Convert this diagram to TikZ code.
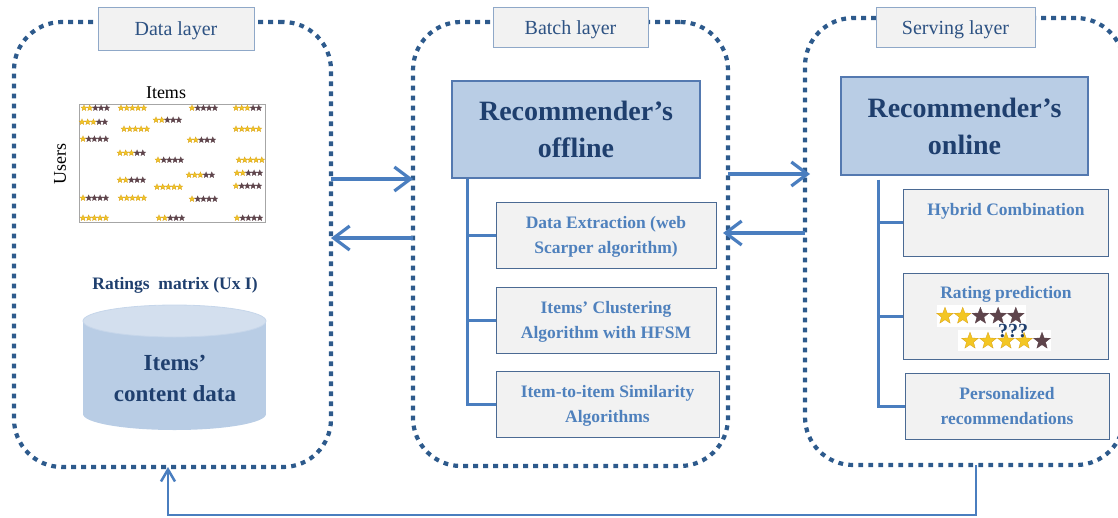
\documentclass[tikz,border=0pt]{standalone}
\usepackage{fontspec}
\setmainfont{Liberation Serif}
\usetikzlibrary{arrows.meta,calc}

\definecolor{dotc}{HTML}{2D5A8C}
\definecolor{arrc}{HTML}{4A7EBF}
\definecolor{hdrfill}{HTML}{B9CDE5}
\definecolor{hdrline}{HTML}{5479B0}
\definecolor{hdrtext}{HTML}{1F3F6E}
\definecolor{subfill}{HTML}{F2F2F2}
\definecolor{subline}{HTML}{4B6A93}
\definecolor{subtext}{HTML}{4F81BD}
\definecolor{titleline}{HTML}{8FA8C8}
\definecolor{titletext}{HTML}{2D5283}
\definecolor{cylbody}{HTML}{B9CDE5}
\definecolor{cyltop}{HTML}{D3DFEE}
\definecolor{cylline}{HTML}{C6D6EA}
\definecolor{goldfill}{HTML}{F3C623}
\definecolor{goldline}{HTML}{D9A21B}
\definecolor{brownfill}{HTML}{5E444B}
\definecolor{gridline}{HTML}{A6A6A6}

% fixed first-line height and last-line depth for the two-line box labels
\newcommand\topstrut{\rule{0pt}{17.5pt}}
\newcommand\botstrut{\rule[-5.5pt]{0pt}{5.5pt}}

% a row of five stars: x of first centre, y, number of gold stars, radius, spacing
\newcommand\starrow[5]{%
  \foreach \i in {1,...,5}{%
    \ifnum\i>#3\relax\def\sc{sb}\else\def\sc{sg}\fi
    \path[\sc, shift={({#1+(\i-1)*#5},#2)}] (-90:#4)
      \foreach \k in {1,...,9}{ -- (-90+36*\k:{#4*(mod(\k,2)==0 ? 1 : 0.42)}) } -- cycle;
  }}

\begin{document}
\begin{tikzpicture}[x=1pt,y=-1pt,
  layer/.style={draw=dotc, line width=4.2pt, dash pattern=on 4.8pt off 5.2pt,
    rounded corners=48pt, inner sep=0pt, outer sep=0pt},
  titlebox/.style={draw=titleline, fill=subfill, line width=0.8pt, inner sep=0pt,
    text height=14pt, text depth=0pt,
    font=\fontsize{20}{24}\selectfont, text=titletext},
  hdr/.style={draw=hdrline, fill=hdrfill, line width=1.2pt, inner sep=0pt, align=center,
    font=\bfseries\fontsize{28}{37}\selectfont, text=hdrtext},
  subbox/.style={draw=subline, fill=subfill, line width=1pt, inner sep=0pt, align=center,
    font=\bfseries\fontsize{17.5}{24.5}\selectfont, text=subtext},
  subtxt/.style={inner sep=0pt, align=center, font=\bfseries\fontsize{17.5}{24.5}\selectfont, text=subtext},
  arr/.style={draw=arrc, line width=3.2pt, -{Straight Barb[length=16pt,width=24pt]}},
  trunk/.style={draw=arrc, line width=3pt},
  fb/.style={draw=arrc, line width=2.5pt, -{Straight Barb[length=12pt,width=14pt]}},
  sg/.style={fill=goldfill, draw=goldline, line width=0.3pt},
  sb/.style={fill=brownfill, draw=brownfill, line width=0.3pt}]

\useasboundingbox (0,0) rectangle (1118,517);
\clip (0,0) rectangle (1118,517);

% ---------- the three layers ----------
\node[layer, minimum width=317pt, minimum height=445pt] (datal) at (172.5,244.5) {};
\node[layer, minimum width=315pt, minimum height=444pt] (batchl) at (570.5,244) {};
\node[layer, minimum width=319pt, minimum height=447pt] (servl) at (964.5,241.5) {};

\node[titlebox, minimum width=156pt, minimum height=43pt] (tdata) at (176,28.5) {Data layer};
\node[titlebox, minimum width=155pt, minimum height=40pt] (tbatch) at (570.5,27) {Batch layer};
\node[titlebox, minimum width=159pt, minimum height=40pt] (tserv) at (955.5,27) {Serving layer};

% ---------- data layer ----------
\node[inner sep=0pt, font=\fontsize{18}{20}\selectfont] (items) at (166,93) {Items};
\node[draw=gridline, fill=white, line width=1pt, minimum width=186pt, minimum height=118pt,
  inner sep=0pt] (mat) at (172,163) {};
\node[inner sep=0pt, rotate=90, font=\fontsize{18}{20}\selectfont] (users) at (60,164) {Users};

\foreach \gx/\gy/\ng in {81/108/2, 118/108/5, 189/108/1, 233/108/3,
    79/122/3, 153/120/2, 121/129/5, 233/129/5, 80/139/1, 187/140/2,
    117/153/3, 155/160/1, 236/160/5, 186/175/3, 234/173/2, 117/180/2,
    233/186/1, 154/187/5, 80/198/1, 118/198/5, 189/199/1,
    80/218/5, 156/218/2, 234/218/1}{
  \starrow{\gx+3}{\gy}{\ng}{3.1}{5.7}
}

\node[inner sep=0pt, font=\bfseries\fontsize{17.5}{20}\selectfont, text=hdrtext]
  (rmat) at (175,285) {Ratings\ \ matrix (Ux I)};

% database cylinder
\fill[cylbody] (83,321) rectangle (266,414);
\fill[cylbody] (174.5,414) ellipse [x radius=91.5, y radius=16];
\filldraw[fill=cyltop, draw=cylline, line width=0.8pt] (174.5,321) ellipse [x radius=91.5, y radius=16];
\node[inner sep=0pt, align=center, font=\bfseries\fontsize{23}{31}\selectfont, text=hdrtext]
  (cyltxt) at (175,378) {Items’\\content data};

% ---------- batch layer ----------
\node[hdr, minimum width=248pt, minimum height=97pt] (hoff) at (576,129.5) {Recommender’s\\offline};
\node[subbox, minimum width=220pt, minimum height=66pt] (b1) at (606,235)
  {\topstrut Data Extraction (web\\Scarper algorithm)\botstrut};
\node[subbox, minimum width=220pt, minimum height=66pt] (b2) at (606,320)
  {\topstrut Items’ Clustering\\Algorithm with HFSM\botstrut};
\node[subbox, minimum width=223pt, minimum height=66pt] (b3) at (607.5,404)
  {\topstrut Item-to-item Similarity\\Algorithms\botstrut};

\coordinate (tB) at (467,0);
\draw[trunk] (hoff.south -| tB) |- (b3.west);
\draw[trunk] (b1.west -| tB) -- (b1.west);
\draw[trunk] (b2.west -| tB) -- (b2.west);

% ---------- serving layer ----------
\node[hdr, minimum width=247pt, minimum height=98pt] (hon) at (964.5,126) {Recommender’s\\online};
\node[subbox, minimum width=205pt, minimum height=67pt] (v1) at (1005.5,222.5) {};
\node[subtxt] (v1t) at (1006,211) {Hybrid Combination};
\node[subbox, minimum width=205pt, minimum height=86pt] (v2) at (1005.5,316) {};
\node[subtxt] (v2t) at (1006,294) {Rating prediction};
\node[subbox, minimum width=204pt, minimum height=66pt] (v3) at (1007,406)
  {\topstrut Personalized\\recommendations\botstrut};

\fill[white] (937,305) rectangle (1026,327);
\fill[white] (958,330) rectangle (1051,351);
\starrow{945}{316}{2}{8.8}{17.7}
\starrow{970}{341}{4}{8.8}{18}
\node[inner sep=0pt, anchor=base, font=\bfseries\fontsize{20}{22}\selectfont, text=hdrtext]
  (qq) at (1013,337) {???};

\coordinate (tS) at (878,0);
\draw[trunk] ($(hon.south -| tS)+(0,4)$) |- (v3.west);
\draw[trunk] (v1.west -| tS) -- (v1.west);
\draw[trunk] (v2.west -| tS) -- (v2.west);

% ---------- flows between layers ----------
\coordinate (a1) at (0,179);
\coordinate (a2) at (0,238);
\coordinate (a3) at (0,174);
\coordinate (a4) at (0,233);
\draw[arr] (datal.east |- a1) -- (batchl.west |- a1);
\draw[arr] (batchl.west |- a2) -- (datal.east |- a2);
\draw[arr] (batchl.east |- a3) -- ($(servl.west |- a3)+(5,0)$);
\draw[arr] (servl.west |- a4) -- ($(batchl.east |- a4)+(-5,0)$);

\coordinate (fbR) at (976,515);
\coordinate (fbL) at (168,515);
\draw[fb] (servl.south -| fbR) -- (fbR) -- (fbL) -- (datal.south -| fbL);

\end{tikzpicture}
\end{document}
